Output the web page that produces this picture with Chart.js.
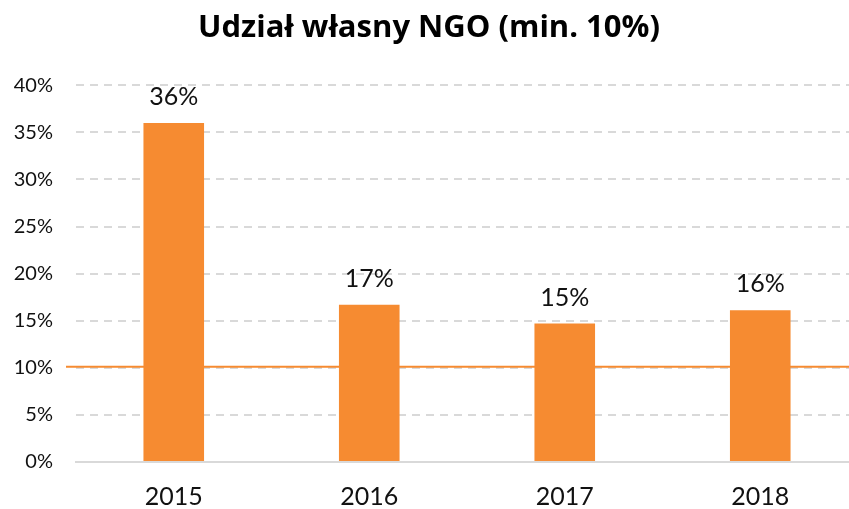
<!DOCTYPE html>
<html>
<head>
<meta charset="utf-8">
<script src="https://cdn.jsdelivr.net/npm/chart.js@4"></script>
<style>
  html, body { margin:0; padding:0; background:#fff; overflow:hidden; }
  #wrap { width:858px; height:524px; }
</style>
</head>
<body>
<div id="wrap"><canvas id="barChart"></canvas></div>
<script>
// Data
const years = ['2015', '2016', '2017', '2018'];
const shares = [36.0, 16.7, 14.7, 16.1];
const minShare = 10;
const orange = '#F68B31';
const fontFamily = 'Lato, "Open Sans", sans-serif';

// Value labels above bars
const valueLabels = {
  id: 'valueLabels',
  afterDatasetsDraw(chart) {
    const ctx = chart.ctx;
    const meta = chart.getDatasetMeta(0);
    ctx.save();
    ctx.font = '25px ' + fontFamily;
    ctx.fillStyle = '#111';
    ctx.textAlign = 'center';
    ctx.textBaseline = 'middle';
    meta.data.forEach((bar, i) => {
      ctx.fillText(Math.round(shares[i]) + '%', bar.x, bar.y - 26);
    });
    ctx.restore();
  }
};

// Minimum share line (10%)
const minLine = {
  id: 'minLine',
  beforeDatasetsDraw(chart) {
    const ctx = chart.ctx;
    const y = chart.scales.y.getPixelForValue(minShare);
    ctx.save();
    ctx.strokeStyle = orange;
    ctx.lineWidth = 2;
    ctx.beginPath();
    ctx.moveTo(chart.chartArea.left - 10, y - 1);
    ctx.lineTo(chart.chartArea.right, y - 1);
    ctx.stroke();
    ctx.restore();
  }
};

const barCtx = document.getElementById('barChart').getContext('2d');
let barChart = new Chart(barCtx, {
  type: 'bar',
  data: {
    labels: years,
    datasets: [{
      label: 'Udział własny',
      data: shares,
      backgroundColor: orange,
      barPercentage: 0.62,
      categoryPercentage: 0.5
    }]
  },
  options: {
    responsive: true,
    maintainAspectRatio: false,
    animation: false,
    layout: { padding: 0 },
    plugins: {
      legend: { display: false },
      tooltip: { enabled: false },
      title: {
        display: true,
        text: 'Udział własny NGO (min. 10%)',
        color: '#000',
        font: { family: '"Open Sans", Lato, sans-serif', size: 31, weight: 'bold' },
        padding: { top: 10, bottom: 38 }
      }
    },
    scales: {
      x: {
        grid: { display: false },
        border: { display: true, color: '#d9d9d9', width: 2 },
        ticks: { color: '#111', font: { family: fontFamily, size: 25 }, padding: 12 }
      },
      y: {
        min: 0,
        max: 40,
        afterFit(scale) { scale.width = 76; },
        ticks: {
          stepSize: 5,
          color: '#111',
          padding: 23,
          font: { family: fontFamily, size: 20 },
          callback: v => v + '%'
        },
        grid: { color: '#d9d9d9', lineWidth: 2, drawTicks: false },
        border: { display: false, dash: [8, 6] }
      }
    }
  },
  plugins: [minLine, valueLabels]
});
</script>
</body>
</html>
